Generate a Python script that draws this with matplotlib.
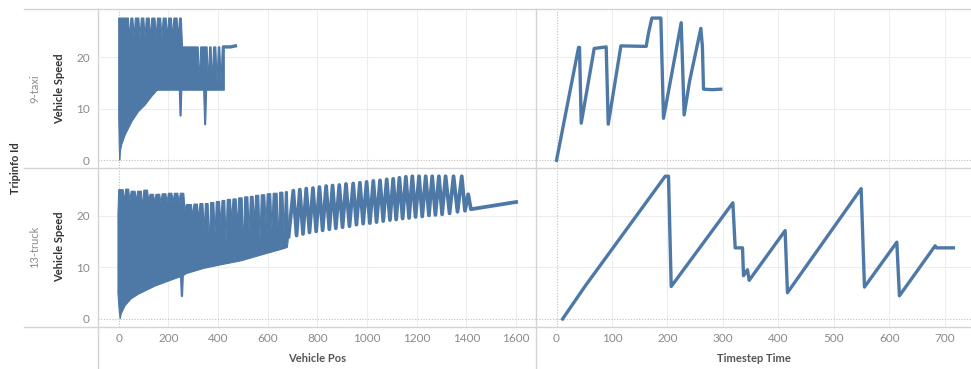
import numpy as np
import matplotlib.pyplot as plt
from matplotlib.lines import Line2D

plt.rcParams['font.family'] = ['Lato', 'DejaVu Sans']

# ---- 9-taxi : speed vs lane position (dense band) ----
taxi_top_start_pos = [0]
taxi_top_start_spd = [27.6]
taxi_slot_pos = [44, 62, 86, 106, 128, 151, 174, 196, 217, 240, 257, 325, 361, 377, 396, 412]
taxi_slot_spd = [23.8, 23.8, 23.8, 23.8, 23.8, 23.8, 23.8, 23.8, 23.8, 23.8,
                 22.0, 15.0, 15.0, 15.0, 15.0, 15.0]
taxi_tooth_top = [27.6, 27.6, 27.6, 27.6, 27.6, 27.6, 27.6, 27.6, 27.6, 27.6, 27.6,
                  22.0, 22.0, 22.0, 22.0, 22.0, 22.0]
taxi_top_end_pos = [425]
taxi_top_end_spd = [22.0]
taxi_low_pos = [0, 2, 4, 7, 12, 26, 53, 79, 106, 133, 153, 160, 244, 247, 251, 254,
                342, 346, 350, 354, 425]
taxi_low_spd = [8.5, 3.0, 0.0, 1.8, 3.0, 4.9, 7.5, 9.4, 10.7, 12.4, 13.5, 13.6, 13.6,
                8.6, 8.6, 13.6, 13.6, 6.9, 6.9, 13.6, 13.6]
taxi_tail_pos = [424, 450, 470]
taxi_tail_spd = [22.0, 22.0, 22.2]

# ---- 9-taxi : speed vs time ----
taxi_time = [0, 39.7, 41.4, 44.5, 67.9, 89.5, 93.2, 116, 161.6, 165.8, 171.8, 188,
             192.8, 224.7, 230, 239.7, 260.1, 262.9, 264.9, 280, 296]
taxi_speed = [0, 21.9, 21.9, 7.2, 21.7, 22.0, 7.0, 22.2, 22.1, 24.7, 27.6, 27.6,
              8.15, 26.7, 8.8, 15.3, 25.6, 22.05, 13.8, 13.7, 13.8]

# ---- 13-truck : speed vs lane position ----
truck_top_start_pos = [-3, 0]
truck_top_start_spd = [20.6, 25.1]
truck_slot_pos = [23, 45, 71, 96, 121, 145, 170, 195, 219, 243, 267, 298, 322, 344, 365,
                  388, 411, 432, 455, 478, 502, 525, 546, 569, 593, 617, 643, 666]
truck_slot_spd = [22.8, 22.8, 22.8, 21.5, 22.8, 22.6, 22.6, 22.6, 22.6, 22.6, 21.0,
                  19.9, 19.5, 17.0, 13.8, 16.4, 18.3, 15.1, 19.0, 17.7, 13.1, 16.7,
                  18.6, 15.2, 18.5, 17.3, 14.2, 16.7]
truck_tooth_top = [25.1, 25.2, 24.8, 24.8, 25.0, 24.2, 24.2, 24.3, 24.4, 24.4, 24.4,
                   22.2, 22.3, 22.4, 22.4, 22.6, 22.8, 23.0, 23.2, 23.3, 23.5, 23.7,
                   23.8, 24.0, 24.1, 24.3, 24.4, 24.6, 24.7]
truck_top_end_pos = [679, 684]
truck_top_end_spd = [24.7, 16.0]
truck_low_pos = [-3, 2, 6, 10, 26, 50, 79, 147, 214, 249, 252, 257, 260, 272, 341,
                 420, 494, 580, 661, 679, 684]
truck_low_spd = [5.0, 1.5, 0.0, 1.0, 2.6, 3.9, 4.8, 6.4, 7.6, 8.2, 4.4, 4.4, 8.4, 8.8,
                 9.8, 10.6, 11.3, 12.5, 13.6, 13.9, 16.0]

truck_trough_pos = [684, 716, 742, 768, 795, 821, 848, 874, 901, 929, 957, 984, 1011,
                    1038, 1065, 1092, 1117, 1143, 1169, 1195, 1222, 1249, 1275, 1302,
                    1332, 1364, 1394, 1418]
truck_trough_spd = [16.0, 16.2, 16.5, 16.8, 17.0, 17.2, 17.4, 17.6, 17.8, 18.0, 18.3,
                    18.5, 18.6, 18.8, 19.0, 19.2, 19.3, 19.5, 19.6, 19.8, 19.9, 20.1,
                    20.2, 20.3, 20.5, 20.8, 21.0, 21.3]
truck_peak_pos = [703, 729, 755, 782, 808, 835, 861, 888, 915, 944, 971, 998, 1025,
                  1052, 1079, 1105, 1130, 1156, 1182, 1209, 1236, 1262, 1289, 1316,
                  1348, 1381, 1407]
truck_peak_spd = [24.9, 25.1, 25.3, 25.4, 25.6, 25.8, 25.9, 26.0, 26.2, 26.3, 26.45,
                  26.6, 26.8, 26.9, 27.1, 27.2, 27.4, 27.6, 27.7, 27.7, 27.7, 27.7,
                  27.7, 27.7, 27.7, 27.7, 24.2]
truck_tail_pos = [1600]
truck_tail_spd = [22.7]

# ---- 13-truck : speed vs time ----
truck_time = [10.9, 51.7, 195.9, 201.8, 206.7, 317.8, 322, 335.2, 337, 344.1, 347.2,
              412, 416.2, 549, 555, 613.3, 618, 682.3, 685, 700, 715.3]
truck_speed = [0, 6.4, 27.7, 27.7, 6.3, 22.55, 13.8, 13.8, 8.4, 9.55, 7.5, 17.15, 5.1,
               25.3, 6.2, 14.9, 4.5, 14.2, 13.8, 13.8, 13.8]

BLUE = '#4e79a7'
GRID = '#ededed'
BORDER = '#d4d4d4'
SLOT_W = 5  # half width of the gaps between overlapping strokes

W, H = 971, 369
fig = plt.figure(figsize=(W / 100, H / 100), dpi=100)


def box(x0, y0, x1, y1):
    return [x0 / W, 1 - y1 / H, (x1 - x0) / W, (y1 - y0) / H]


def band(ax, s_pos, s_spd, slot_pos, slot_spd, tooth, e_pos, e_spd, low_pos, low_spd):
    xs, ys = list(s_pos), list(s_spd)
    for i, (c, d) in enumerate(zip(slot_pos, slot_spd)):
        xs += [c - SLOT_W, c, c + SLOT_W]
        ys += [tooth[i], d, tooth[i + 1]]
    xs += list(e_pos) + list(low_pos[::-1])
    ys += list(e_spd) + list(low_spd[::-1])
    ax.fill(xs, ys, facecolor=BLUE, edgecolor=BLUE, lw=0.8, zorder=3)


ax_tl = fig.add_axes(box(97.6, 9.3, 536, 168))
ax_tr = fig.add_axes(box(536, 9.3, 971, 168))
ax_bl = fig.add_axes(box(97.6, 168, 536, 326.7))
ax_br = fig.add_axes(box(536, 168, 971, 326.7))

for ax in (ax_tl, ax_tr, ax_bl, ax_br):
    for s in ax.spines.values():
        s.set_visible(False)
    ax.patch.set_alpha(0)
    ax.set_ylim(-1.5, 29.3)
    ax.set_yticks([0, 10, 20])
    ax.tick_params(length=0, labelsize=8.5, colors='#8a8a8a', pad=4.5)
    ax.tick_params(axis='y', pad=5.5)
    for v in (10, 20):
        ax.axhline(v, color=GRID, lw=0.8, zorder=0)
    ax.axhline(0, color='#bfbfbf', lw=0.8, ls=(0, (1, 1.5)), zorder=1)
    ax.axvline(0, color='#bfbfbf', lw=0.8, ls=(0, (1, 1.5)), zorder=1)

for ax in (ax_tl, ax_bl):
    ax.set_xlim(-85, 1680)
    ax.set_xticks(range(0, 1601, 200))
    for v in range(200, 1601, 200):
        ax.axvline(v, color=GRID, lw=0.8, zorder=0)
for ax in (ax_tr, ax_br):
    ax.set_xlim(-37, 747)
    ax.set_xticks(range(0, 701, 100))
    ax.tick_params(labelleft=False)
    for v in range(100, 701, 100):
        ax.axvline(v, color=GRID, lw=0.8, zorder=0)
for ax in (ax_tl, ax_tr):
    ax.tick_params(labelbottom=False)

# left column: speed vs position
band(ax_tl, taxi_top_start_pos, taxi_top_start_spd, taxi_slot_pos, taxi_slot_spd,
     taxi_tooth_top, taxi_top_end_pos, taxi_top_end_spd, taxi_low_pos, taxi_low_spd)
ax_tl.plot(taxi_tail_pos, taxi_tail_spd, color=BLUE, lw=2.4, zorder=3)

band(ax_bl, truck_top_start_pos, truck_top_start_spd, truck_slot_pos, truck_slot_spd,
     truck_tooth_top, truck_top_end_pos, truck_top_end_spd, truck_low_pos, truck_low_spd)
zig_pos, zig_spd = [], []
for i in range(len(truck_peak_pos)):
    zig_pos += [truck_trough_pos[i], truck_peak_pos[i]]
    zig_spd += [truck_trough_spd[i], truck_peak_spd[i]]
zig_pos += [truck_trough_pos[-1]] + truck_tail_pos
zig_spd += [truck_trough_spd[-1]] + truck_tail_spd
ax_bl.plot(zig_pos, zig_spd, color=BLUE, lw=2.7, zorder=3)

# right column: speed vs time
ax_tr.plot(taxi_time, taxi_speed, color=BLUE, lw=2.4, zorder=3)
ax_br.plot(truck_time, truck_speed, color=BLUE, lw=2.4, zorder=3)

# pane borders
for y in (9.3, 168, 326.7):
    fig.add_artist(Line2D([24 / W, 1], [1 - y / H] * 2, color=BORDER, lw=1))
for x in (97.6, 536):
    fig.add_artist(Line2D([x / W] * 2, [0, 1 - 9.3 / H], color=BORDER, lw=1))

# headers and titles
fig.text(15.5 / W, 1 - 168 / H, 'Tripinfo Id', rotation=90, ha='center', va='center',
         fontsize=8, color='#333333', fontweight='bold')
for yc, name in ((88.7, '9-taxi'), (247, '13-truck')):
    fig.text(34.5 / W, 1 - yc / H, name, rotation=90, ha='center', va='center',
             fontsize=8, color='#8c8c8c')
    fig.text(60 / W, 1 - yc / H, 'Vehicle Speed', rotation=90, ha='center', va='center',
             fontsize=8, color='#333333', fontweight='bold')
fig.text(317 / W, 1 - 358 / H, 'Vehicle Pos', ha='center', va='center',
         fontsize=8, color='#555555', fontweight='bold')
fig.text(754 / W, 1 - 358 / H, 'Timestep Time', ha='center', va='center',
         fontsize=8, color='#555555', fontweight='bold')

fig.savefig('out.png', dpi=100)
